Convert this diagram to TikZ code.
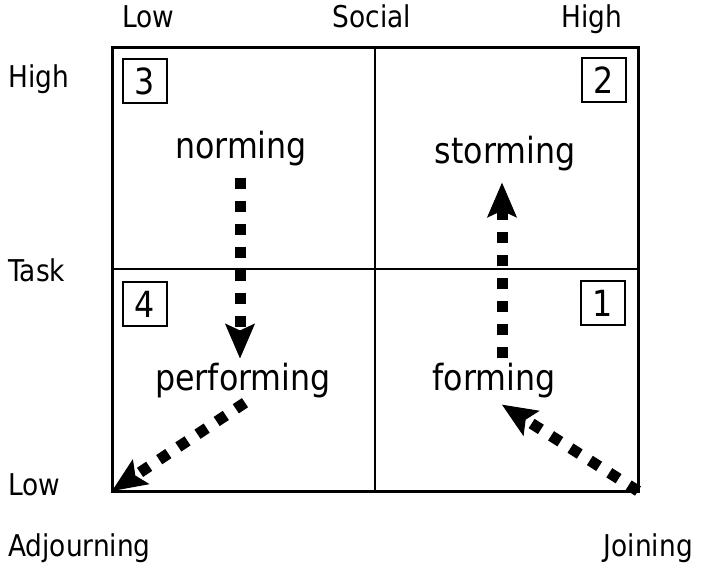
\documentclass[tikz,border=0pt]{standalone}
\usepackage{fontspec}
\setmainfont{DejaVu Sans}[FakeStretch=0.88]
\usetikzlibrary{arrows.meta,calc}
\tikzset{
  big/.style={font=\fontsize{36}{40}\selectfont, inner sep=0pt, anchor=base},
  small/.style={font=\fontsize{30}{34}\selectfont, inner sep=0pt, anchor=base},
  numbox/.style={draw, line width=2pt, minimum size=44pt, inner sep=0pt, font=\fontsize{36}{40}\selectfont},
  dotarrow/.style={line width=11pt, dash pattern=on 11pt off 12pt,
    -{Stealth[length=35pt,width=30pt,inset=7pt,line width=1pt]}},
  gridline/.style={line width=2pt},
}
\begin{document}
\begin{tikzpicture}[x=1pt,y=-1pt]
\useasboundingbox (0,0) rectangle (704,571);
\node[draw, line width=3pt, outer sep=0pt, inner sep=0pt, minimum width=526pt, minimum height=444pt] (frame) at (375,269) {};
\draw[gridline] (frame.north) -- (frame.south);
\draw[gridline] (frame.west) -- (frame.east);

\node[small] (lowtop) at (148,27) {Low};
\node[small] (social) at (372,27) {Social};
\node[small] (hightop) at (592,27) {High};
\node[small, anchor=base west] (highleft) at (8,87) {High};
\node[small, anchor=base west] (task) at (8,281) {Task};
\node[small, anchor=base west] (lowleft) at (8,495) {Low};
\node[small, anchor=base west] (adj) at (8,556) {Adjourning};
\node[small, anchor=base east] (join) at (693,556) {Joining};

\node[big] (norming) at (241,158) {norming};
\node[big] (storming) at (505,163) {storming};
\node[big] (performing) at (243,390) {performing};
\node[big] (forming) at (494,390) {forming};

\node[numbox] (n3) at (145,81) {3};
\node[numbox] (n2) at (604,80) {2};
\node[numbox] (n4) at (145,304) {4};
\node[numbox] (n1) at (603,303) {1};

\draw[dotarrow] ($(norming.south)+(-1,12)$) -- ($(norming.south |- performing.north)+(-1,-4)$);
\draw[dotarrow] ($(storming.south |- forming.north)+(-3,-4)$) -- ($(storming.south)+(-3,12)$);
\draw[dotarrow] ($(performing.south)+(2,5)$) -- (frame.south west);
\draw[dotarrow] (frame.south east) -- ($(forming.south)+(8,7)$);
\end{tikzpicture}
\end{document}
